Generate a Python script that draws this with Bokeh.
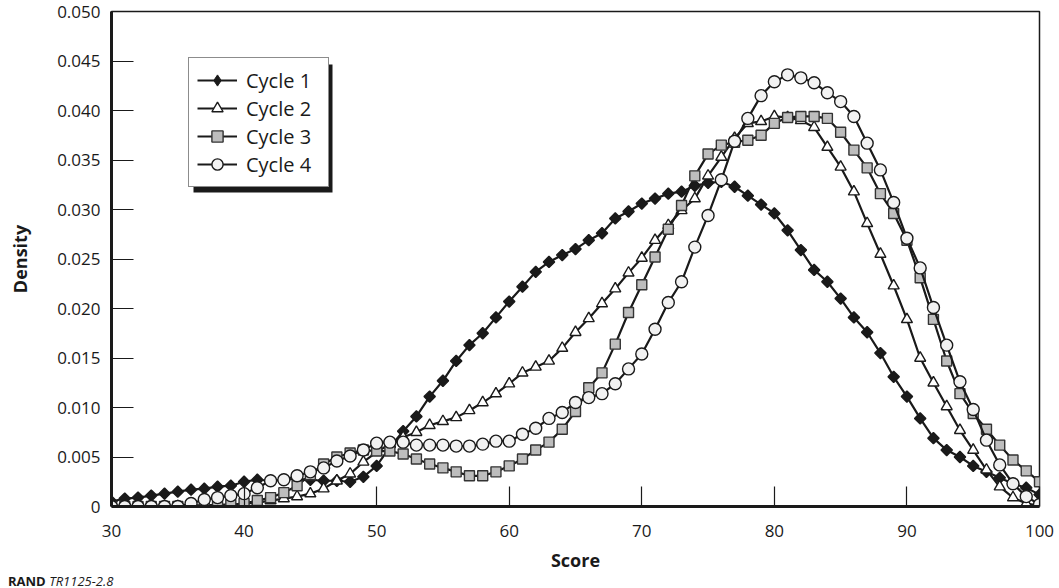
import math
from bokeh.plotting import figure
from bokeh.layouts import column
from bokeh.models import (FixedTicker, PrintfTickFormatter, Legend, LegendItem,
                          BoxAnnotation, Range1d, Div)
from bokeh.embed import file_html
from bokeh.resources import INLINE

# ---------------- data ----------------
score = list(range(30, 101))

cycle1 = [0.0005, 0.0008, 0.0009, 0.0011, 0.0013, 0.0015, 0.0017, 0.0018, 0.0020, 0.0021,
          0.0025, 0.0027, 0.0026, 0.0027, 0.0028, 0.0027, 0.0026, 0.0026, 0.0025, 0.0030,
          0.0041, 0.0060, 0.0076, 0.0091, 0.0111, 0.0127, 0.0147, 0.0163, 0.0175, 0.0191,
          0.0207, 0.0222, 0.0237, 0.0247, 0.0254, 0.0260, 0.0269, 0.0276, 0.0291, 0.0298,
          0.0306, 0.0311, 0.0316, 0.0318, 0.0324, 0.0327, 0.0328, 0.0323, 0.0314, 0.0305,
          0.0296, 0.0279, 0.0259, 0.0239, 0.0227, 0.0210, 0.0191, 0.0176, 0.0155, 0.0131,
          0.0111, 0.0089, 0.0069, 0.0057, 0.0050, 0.0041, 0.0035, 0.0029, 0.0023, 0.0019,
          0.0012]

cycle2 = [0.0000, 0.0000, 0.0000, 0.0000, 0.0000, 0.0000, 0.0001, 0.0001, 0.0002, 0.0002,
          0.0003, 0.0004, 0.0006, 0.0008, 0.0010, 0.0013, 0.0018, 0.0026, 0.0033, 0.0045,
          0.0055, 0.0063, 0.0070, 0.0075, 0.0082, 0.0086, 0.0090, 0.0097, 0.0105, 0.0114,
          0.0124, 0.0135, 0.0141, 0.0147, 0.0160, 0.0176, 0.0190, 0.0205, 0.0220, 0.0236,
          0.0251, 0.0269, 0.0284, 0.0299, 0.0311, 0.0334, 0.0353, 0.0372, 0.0387, 0.0389,
          0.0394, 0.0393, 0.0390, 0.0383, 0.0363, 0.0343, 0.0318, 0.0286, 0.0255, 0.0223,
          0.0189, 0.0150, 0.0125, 0.0101, 0.0077, 0.0057, 0.0037, 0.0020, 0.0009, 0.0003,
          0.0001]

cycle3 = [0.0000, 0.0000, 0.0000, 0.0000, 0.0000, 0.0000, 0.0001, 0.0001, 0.0001, 0.0002,
          0.0003, 0.0006, 0.0009, 0.0014, 0.0021, 0.0032, 0.0043, 0.0050, 0.0054, 0.0057,
          0.0056, 0.0056, 0.0053, 0.0048, 0.0043, 0.0039, 0.0035, 0.0031, 0.0031, 0.0035,
          0.0041, 0.0048, 0.0057, 0.0065, 0.0078, 0.0096, 0.0120, 0.0135, 0.0164, 0.0196,
          0.0224, 0.0252, 0.0280, 0.0304, 0.0334, 0.0356, 0.0365, 0.0368, 0.0370, 0.0375,
          0.0387, 0.0393, 0.0394, 0.0394, 0.0392, 0.0378, 0.0360, 0.0342, 0.0316, 0.0296,
          0.0269, 0.0231, 0.0189, 0.0147, 0.0114, 0.0094, 0.0078, 0.0062, 0.0047, 0.0036,
          0.0025]

cycle4 = [0.0000, 0.0000, 0.0000, 0.0000, 0.0000, 0.0000, 0.0003, 0.0007, 0.0009, 0.0011,
          0.0013, 0.0019, 0.0026, 0.0027, 0.0031, 0.0035, 0.0039, 0.0046, 0.0051, 0.0057,
          0.0064, 0.0065, 0.0065, 0.0062, 0.0062, 0.0062, 0.0061, 0.0061, 0.0063, 0.0066,
          0.0066, 0.0073, 0.0079, 0.0089, 0.0095, 0.0105, 0.0110, 0.0114, 0.0124, 0.0139,
          0.0154, 0.0179, 0.0206, 0.0227, 0.0262, 0.0294, 0.0330, 0.0369, 0.0392, 0.0415,
          0.0429, 0.0436, 0.0433, 0.0428, 0.0418, 0.0409, 0.0394, 0.0367, 0.0340, 0.0307,
          0.0271, 0.0241, 0.0201, 0.0163, 0.0126, 0.0098, 0.0067, 0.0042, 0.0023, 0.0010,
          0.0002]

series_names = ["Cycle 1", "Cycle 2", "Cycle 3", "Cycle 4"]
x_ticks = [30, 40, 50, 60, 70, 80, 90, 100]
y_ticks = [0, 0.005, 0.010, 0.015, 0.020, 0.025, 0.030, 0.035, 0.040, 0.045, 0.050]
x_label = "Score"
y_label = "Density"
source_bold = "RAND"
source_italic = "TR1125-2.8"

# ---------------- layout ----------------
W, H = 1055, 574
BL, BR, BT, BB = 111, 16, 11, 68
FW, FH = W - BL - BR, H - BT - BB
X0, X1, Y0, Y1 = 30, 100, 0, 0.05
FONT = "Open Sans"
INK = "#1a1a1a"

p = figure(width=W, height=H, output_backend="svg", toolbar_location=None,
           x_range=Range1d(X0, X1), y_range=Range1d(Y0, Y1),
           min_border_left=BL, min_border_right=BR, min_border_top=BT,
           min_border_bottom=BB, background_fill_color="white",
           border_fill_color="white")

p.xgrid.visible = False
p.ygrid.visible = False
p.outline_line_color = INK
p.outline_line_width = 1.5

for ax in (p.xaxis[0], p.yaxis[0]):
    ax.axis_line_width = 3
    ax.axis_line_color = INK
    ax.major_tick_out = 0
    ax.major_tick_line_color = INK
    ax.major_tick_line_width = 1.2
    ax.minor_tick_line_color = None
    ax.major_label_text_font = FONT
    ax.major_label_text_font_size = "17px"
    ax.major_label_text_color = INK
    ax.axis_label_text_font = FONT
    ax.axis_label_text_font_size = "18px"
    ax.axis_label_text_font_style = "bold"
    ax.axis_label_text_color = INK

p.xaxis.ticker = FixedTicker(ticks=x_ticks)
p.xaxis.major_tick_in = 20
p.xaxis.major_label_standoff = 18
p.xaxis.axis_label = x_label
p.xaxis.axis_label_standoff = 8

p.yaxis.ticker = FixedTicker(ticks=y_ticks)
p.yaxis.formatter = PrintfTickFormatter(format="%.3f")
p.yaxis.major_label_overrides = {0: "0"}
p.yaxis.major_tick_in = 22
p.yaxis.major_label_standoff = 11
p.yaxis.axis_label = y_label
p.yaxis.axis_label_standoff = 22

# ---------------- series ----------------
styles = [
    dict(marker="square", size=8, angle=math.pi / 4, fill_color=INK, line_color=INK,
         legend_marker="diamond"),
    dict(marker="triangle", size=11, angle=0, fill_color="white", line_color=INK,
         legend_marker=None),
    dict(marker="square", size=10, angle=0, fill_color="#bdbdbd", line_color="#333333",
         legend_marker=None),
    dict(marker="circle", size=12, angle=0, fill_color="#f2f2f2", line_color=INK,
         legend_marker=None),
]
all_series = [cycle1, cycle2, cycle3, cycle4]

items = []
for name, ys, st in zip(series_names, all_series, styles):
    lr = p.line(score, ys, line_color=INK, line_width=2.2)
    leg_r = None
    if st["legend_marker"]:
        # diamond drawn underneath the rotated squares; used for the legend swatch
        # (legend swatches ignore marker rotation)
        leg_r = p.scatter(score, ys, marker=st["legend_marker"], size=10,
                          fill_color=st["fill_color"], line_color=st["line_color"],
                          line_width=1.0)
    sr = p.scatter(score, ys, marker=st["marker"], size=st["size"], angle=st["angle"],
                   fill_color=st["fill_color"], line_color=st["line_color"],
                   line_width=1.4)
    items.append(LegendItem(label=name, renderers=[lr, leg_r or sr]))

# ---------------- legend with drop shadow ----------------
LEG_X, LEG_Y = 77, 319          # screen px from frame bottom-left
PAD, GW, GH, SP, STAND, LW = 8, 40, 28, 0, 9, 74
leg_w = 2 * PAD + GW + STAND + LW
leg_h = 2 * PAD + 4 * GH + 3 * SP
SH = 5
px2x = (X1 - X0) / FW
px2y = (Y1 - Y0) / FH
shadow = BoxAnnotation(left=X0 + (LEG_X + SH) * px2x,
                       right=X0 + (LEG_X + leg_w + SH) * px2x,
                       bottom=Y0 + (LEG_Y - SH) * px2y,
                       top=Y0 + (LEG_Y + leg_h - SH) * px2y,
                       fill_color=INK, fill_alpha=1.0, line_color=None)
p.add_layout(shadow)

legend = Legend(items=items, location=(LEG_X, LEG_Y), padding=PAD, spacing=SP,
                glyph_width=GW, glyph_height=GH, label_height=GH, label_width=LW,
                label_standoff=STAND, margin=0,
                label_text_font=FONT, label_text_font_size="20px",
                label_text_color=INK, label_text_baseline="middle",
                border_line_color=INK, border_line_width=1.5,
                background_fill_color="white", background_fill_alpha=1.0)
p.add_layout(legend)

# ---------------- source note ----------------
note = Div(text=f"<b>{source_bold}</b> <i>{source_italic}</i>", width=300, height=14,
           margin=(0, 0, 0, 8),
           styles={"font-family": FONT, "font-size": "13px", "line-height": "14px",
                   "color": INK})

open("out.html", "w").write(file_html(column(p, note, spacing=0), INLINE))
